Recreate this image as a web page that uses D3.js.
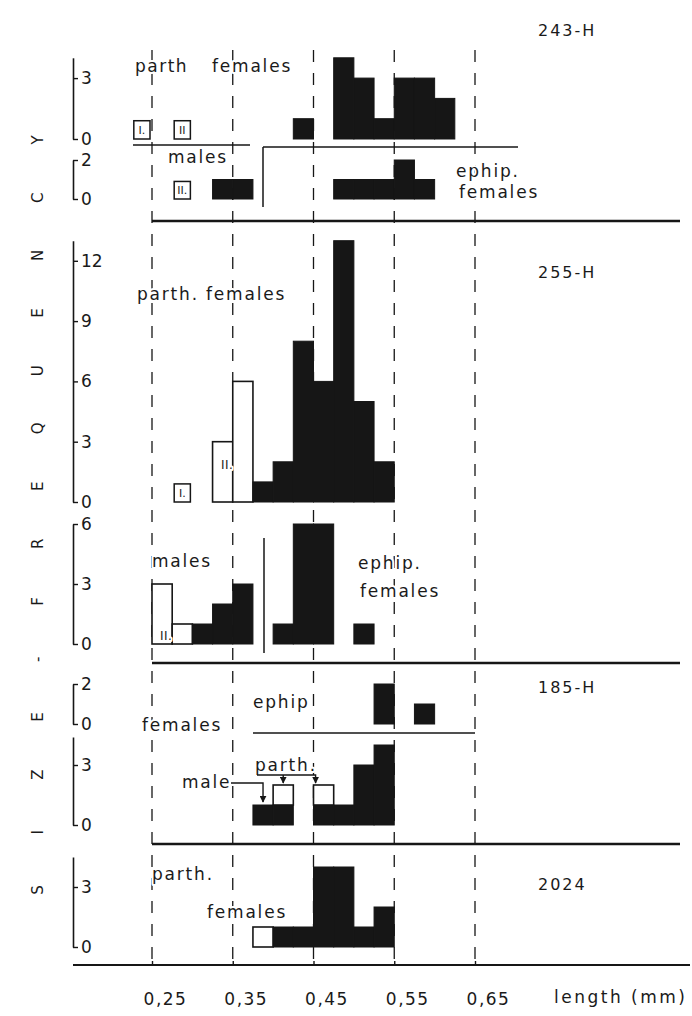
<!DOCTYPE html>
<html lang="en">
<head>
  <title>size-frequency histograms</title>
  <script src="https://cdn.jsdelivr.net/npm/d3@7"></script>
  <style>
    body { margin: 0px; background: white; }
    svg { display: block; }
    text { font-family: "DejaVu Sans", sans-serif; fill: #1a1a1a; }
    .halo { paint-order: stroke; stroke: white; stroke-width: 4px; stroke-linejoin: round; }
  </style>
</head>
<body>
<script>
// Page
var width = 692;
var height = 1016;
var ink = "#161616";

// Length axis (mm)
var lengthTicks = [0.25, 0.35, 0.45, 0.55, 0.65];
var lengthTickLabels = ["0,25", "0,35", "0,45", "0,55", "0,65"];
var binWidth = 0.025;

// 243-H : parth. females
var p243Bins = [0.475, 0.5, 0.525, 0.55, 0.575, 0.6];
var p243Counts = [4, 3, 1, 3, 3, 2];
var p243BoxBins = [0.225, 0.275];
var p243BoxLabels = ["I.", "II"];
var p243SmallBins = [0.425];
var p243SmallCounts = [1];
// 243-H : males
var m243Bins = [0.325, 0.35];
var m243Counts = [1, 1];
var m243BoxBins = [0.275];
var m243BoxLabels = ["II."];
// 243-H : ephip. females
var e243Bins = [0.475, 0.5, 0.525, 0.55, 0.575];
var e243Counts = [1, 1, 1, 2, 1];

// 255-H : parth. females
var p255OpenBins = [0.325, 0.35];
var p255OpenCounts = [3, 6];
var p255Bins = [0.375, 0.4, 0.425, 0.45, 0.475, 0.5, 0.525];
var p255Counts = [1, 2, 8, 6, 13, 5, 2];
var p255BoxBins = [0.275];
var p255BoxLabels = ["I."];
// 255-H : males
var m255OpenBins = [0.25, 0.275];
var m255OpenCounts = [3, 1];
var m255Bins = [0.3, 0.325, 0.35];
var m255Counts = [1, 2, 3];
// 255-H : ephip. females
var e255Bins = [0.4, 0.425, 0.45, 0.5];
var e255Counts = [1, 6, 6, 1];

// 185-H : ephip. females
var e185Bins = [0.525, 0.575];
var e185Counts = [2, 1];
// 185-H : male + parth. females
var p185Bins = [0.375, 0.4, 0.45, 0.475, 0.5, 0.525];
var p185Counts = [1, 1, 1, 1, 3, 4];
var p185OpenBins = [0.4, 0.45];
var p185OpenCounts = [1, 1];
var p185OpenBase = [1, 1];

// 2024 : parth. females
var p2024OpenBins = [0.375];
var p2024OpenCounts = [1];
var p2024Bins = [0.4, 0.425, 0.45, 0.475, 0.5, 0.525];
var p2024Counts = [1, 1, 4, 4, 1, 2];

// Panel y axes: tick values
var ticksA = [0, 3], ticksB = [0, 2], ticksC = [0, 3, 6, 9, 12], ticksD = [0, 3, 6];
var ticksE = [0, 2], ticksF = [0, 3], ticksG = [0, 3];

var svg = d3.select("body").append("svg")
  .attr("width", width)
  .attr("height", height);

svg.append("rect")
  .attr("width", width)
  .attr("height", height)
  .attr("fill", "white");

var defs = svg.append("defs");
defs.append("marker")
  .attr("id", "head")
  .attr("viewBox", "0 0 10 10")
  .attr("refX", 9).attr("refY", 5)
  .attr("markerWidth", 5).attr("markerHeight", 5)
  .attr("orient", "auto")
  .append("path")
  .attr("d", "M0,0 L10,5 L0,10 z")
  .attr("fill", ink);

var x = d3.scaleLinear().domain([0.25, 0.65]).range([152, 475]);

// y scale for one panel: baseline, pixels per count, top of axis
function panelY(base, unit, top) {
  return d3.scaleLinear().domain([0, top]).range([base, base - top * unit]);
}

var yA = panelY(139, 20.3, 4);
var yB = panelY(199, 19.5, 2);
var yC = panelY(502, 20.1, 13);
var yD = panelY(644, 20, 6);
var yE = panelY(724, 20, 2);
var yF = panelY(825, 20, 4.4);
var yG = panelY(947, 20, 4.5);

// dashed guide lines
svg.append("g").selectAll("line")
  .data(lengthTicks)
  .enter().append("line")
  .attr("x1", function(d) { return x(d); })
  .attr("x2", function(d) { return x(d); })
  .attr("y1", 50)
  .attr("y2", 965)
  .attr("stroke", ink)
  .attr("stroke-width", 1.3)
  .attr("stroke-dasharray", "12,11");

// histogram bars
function bars(y, bins, counts, kind, base) {
  var g = svg.append("g");
  g.selectAll("rect")
    .data(bins)
    .enter().append("rect")
    .attr("x", function(d) { return x(d); })
    .attr("width", function(d) { return x(d + binWidth) - x(d); })
    .attr("y", function(d, i) { return y(counts[i] + (base ? base[i] : 0)); })
    .attr("height", function(d, i) { return y(base ? base[i] : 0) - y(counts[i] + (base ? base[i] : 0)); })
    .attr("fill", kind == "open" ? "white" : ink)
    .attr("stroke", ink)
    .attr("stroke-width", kind == "open" ? 1.6 : 1);
  return g;
}

// small labelled instar boxes
function boxes(y, bins, labels) {
  var g = svg.append("g");
  var cell = g.selectAll("g")
    .data(bins)
    .enter().append("g");
  cell.append("rect")
    .attr("x", function(d) { return x(d) + 2; })
    .attr("width", function(d) { return x(d + binWidth) - x(d) - 4; })
    .attr("y", y(0.9))
    .attr("height", y(0) - y(0.9))
    .attr("fill", "white")
    .attr("stroke", ink)
    .attr("stroke-width", 1.5);
  cell.append("text")
    .attr("x", function(d) { return x(d + binWidth / 2); })
    .attr("y", (y(0) + y(0.9)) / 2)
    .attr("dy", "0.35em")
    .attr("text-anchor", "middle")
    .attr("font-size", 11)
    .text(function(d, i) { return labels[i]; });
}

// 243-H
bars(yA, p243Bins, p243Counts, "solid");
bars(yA, p243SmallBins, p243SmallCounts, "solid");
boxes(yA, p243BoxBins, p243BoxLabels);
bars(yB, m243Bins, m243Counts, "solid");
boxes(yB, m243BoxBins, m243BoxLabels);
bars(yB, e243Bins, e243Counts, "solid");

// 255-H
bars(yC, p255OpenBins, p255OpenCounts, "open");
bars(yC, p255Bins, p255Counts, "solid");
boxes(yC, p255BoxBins, p255BoxLabels);
bars(yD, m255OpenBins, m255OpenCounts, "open");
bars(yD, m255Bins, m255Counts, "solid");
bars(yD, e255Bins, e255Counts, "solid");

// 185-H
bars(yE, e185Bins, e185Counts, "solid");
bars(yF, p185Bins, p185Counts, "solid");
bars(yF, p185OpenBins, p185OpenCounts, "open", p185OpenBase);

// 2024
bars(yG, p2024OpenBins, p2024OpenCounts, "open");
bars(yG, p2024Bins, p2024Counts, "solid");

// y axes, labels to the right of the bracket
function yAxis(y, ticks) {
  var g = svg.append("g")
    .attr("transform", "translate(73,0)")
    .call(d3.axisRight(y).tickValues(ticks).tickSize(5).tickSizeOuter(0).tickPadding(3)
      .tickFormat(d3.format("d")));
  g.select(".domain").attr("stroke", ink).attr("stroke-width", 1.6);
  g.selectAll(".tick line").attr("stroke", ink).attr("stroke-width", 1.4);
  g.selectAll(".tick text")
    .attr("font-size", 17)
    .attr("font-family", "DejaVu Sans Condensed, DejaVu Sans, sans-serif")
    .attr("fill", ink);
}
yAxis(yA, ticksA);
yAxis(yB, ticksB);
yAxis(yC, ticksC);
yAxis(yD, ticksD);
yAxis(yE, ticksE);
yAxis(yF, ticksF);
yAxis(yG, ticksG);

// separating rules
function rule(x1, x2, y, w) {
  svg.append("line")
    .attr("x1", x1).attr("x2", x2)
    .attr("y1", y).attr("y2", y)
    .attr("stroke", ink)
    .attr("stroke-width", w);
}
rule(133, 250, 145, 1.5);
rule(263, 518, 147, 1.5);
svg.append("line").attr("x1", 263).attr("x2", 263).attr("y1", 147).attr("y2", 207)
  .attr("stroke", ink).attr("stroke-width", 1.5);
rule(x(0.25), 680, 221, 2.4);
svg.append("line").attr("x1", 264).attr("x2", 264).attr("y1", 538).attr("y2", 653)
  .attr("stroke", ink).attr("stroke-width", 1.5);
rule(x(0.25), 680, 663, 2.4);
rule(253, x(0.65), 733, 1.6);
rule(x(0.25), 680, 844, 2.4);

// bottom length axis
var xg = svg.append("g")
  .attr("transform", "translate(0,965)")
  .call(d3.axisBottom(x).tickValues(lengthTicks).tickSize(-4).tickSizeOuter(0)
    .tickFormat(function(d, i) { return lengthTickLabels[i]; }));
xg.select(".domain").remove();
xg.selectAll(".tick line").attr("stroke", ink).attr("stroke-width", 1.4);
xg.selectAll(".tick text")
  .attr("font-size", 17)
  .attr("letter-spacing", 1.5)
  .attr("fill", ink)
  .attr("dx", 13)
  .attr("y", 28);
rule(73, 690, 965, 2.2);

svg.append("text")
  .attr("x", 554).attr("y", 1003)
  .attr("font-size", 17)
  .attr("letter-spacing", 2.5)
  .text("length (mm)");

// vertical axis title, one rotated letter at a time
var title = "SIZE-FREQUENCY".split("");
var titleY = d3.scalePoint().domain(d3.range(title.length)).range([890, 140]);
svg.append("g").selectAll("text")
  .data(title)
  .enter().append("text")
  .attr("transform", function(d, i) { return "translate(38," + titleY(i) + ") rotate(-90)"; })
  .attr("text-anchor", "middle")
  .attr("dy", "0.35em")
  .attr("font-size", 15)
  .text(function(d) { return d; });

// sample names and group names
function label(tx, ty, s, size, ls) {
  svg.append("text")
    .attr("class", "halo")
    .attr("x", tx).attr("y", ty)
    .attr("font-size", size)
    .attr("letter-spacing", ls)
    .text(s);
}
label(538, 36, "243-H", 16, 2);
label(538, 278, "255-H", 16, 2);
label(538, 693, "185-H", 16, 2);
label(538, 890, "2024", 16, 2);

label(135, 72, "parth", 17, 1.5);
label(212, 72, "females", 17, 1.8);
label(168, 163, "males", 17, 1.8);
label(456, 177, "ephip.", 17, 1.8);
label(459, 198, "females", 17, 1.8);

label(137, 300, "parth. females", 17, 1.8);
label(221, 469, "II.", 12, 0.5);
label(152, 567, "males", 17, 1.8);
label(358, 569, "ephip.", 17, 1.8);
label(360, 597, "females", 17, 1.8);
label(160, 640, "II.", 12, 0.5);

label(253, 708, "ephip", 17, 1.8);
label(142, 731, "females", 17, 1.8);
label(255, 771, "parth.", 17, 1.8);
label(182, 788, "male", 17, 1.8);

label(152, 880, "parth.", 17, 1.8);
label(207, 918, "females", 17, 1.8);

// pointer lines in 185-H
svg.append("path")
  .attr("d", "M231," + 783 + " H" + x(0.3875) + " V" + (yF(1) - 3))
  .attr("fill", "none").attr("stroke", ink).attr("stroke-width", 1.4)
  .attr("marker-end", "url(#head)");
svg.append("path")
  .attr("d", "M257,775 H" + (x(0.4625) - 8) + " V" + (yF(2) - 2))
  .attr("fill", "none").attr("stroke", ink).attr("stroke-width", 1.4)
  .attr("marker-end", "url(#head)");
svg.append("path")
  .attr("d", "M" + x(0.4125) + ",775 V" + (yF(2) - 2))
  .attr("fill", "none").attr("stroke", ink).attr("stroke-width", 1.4)
  .attr("marker-end", "url(#head)");
</script>
</body>
</html>
